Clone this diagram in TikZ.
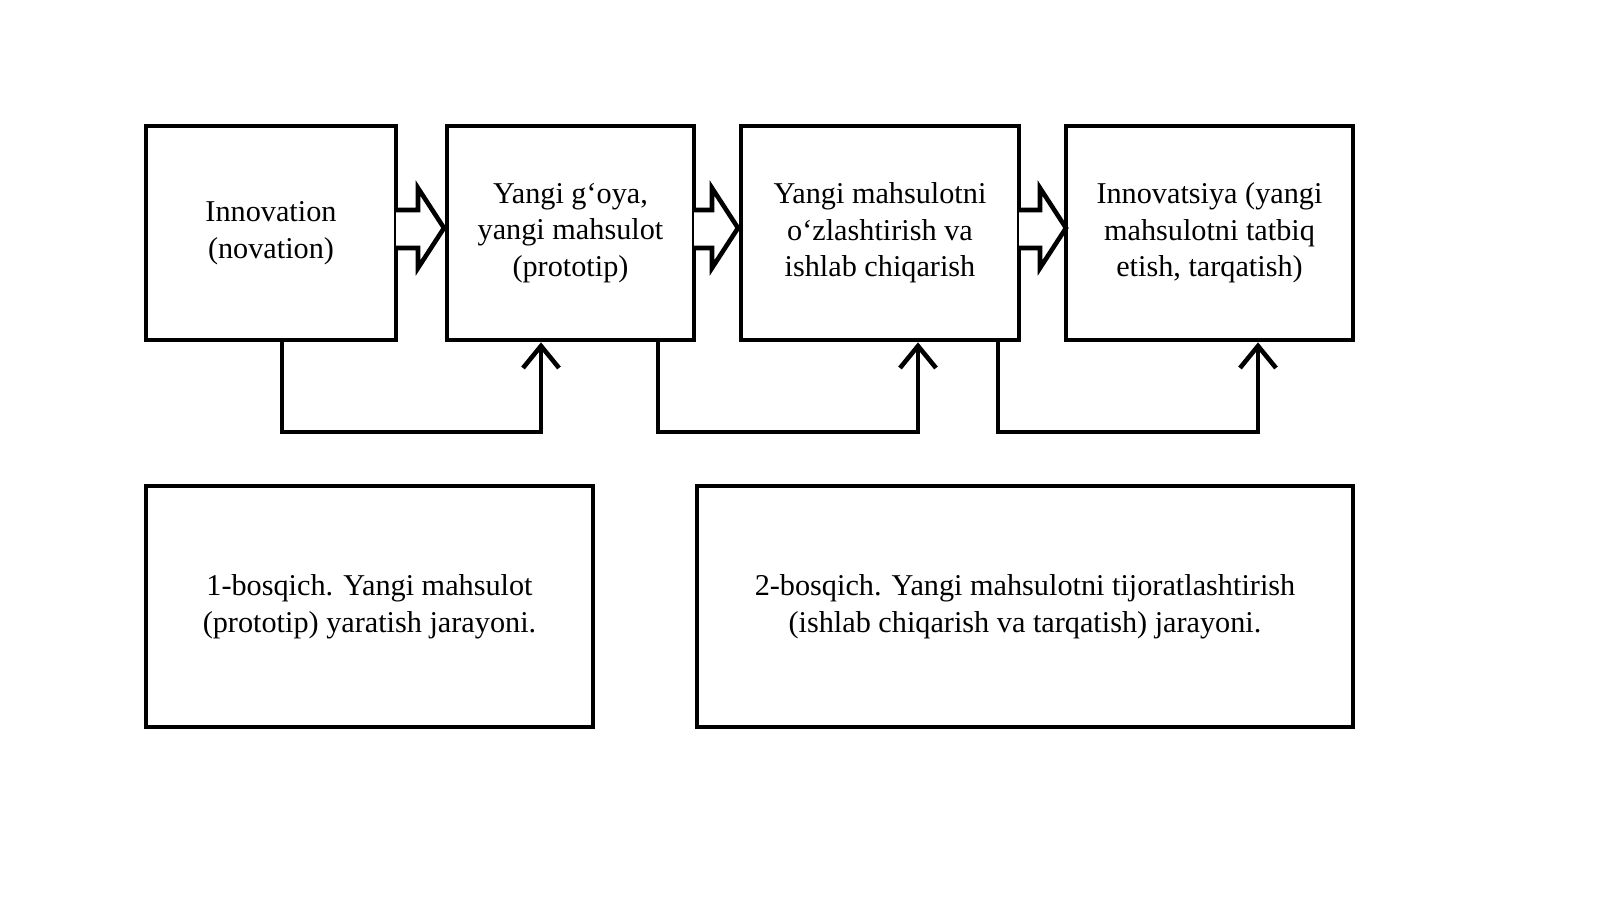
\documentclass[tikz,border=0pt]{standalone}
\usepackage{fontspec}
\setmainfont{Liberation Serif}
\usetikzlibrary{arrows.meta}
\begin{document}
\begin{tikzpicture}[x=0.01cm,y=-0.01cm,
  box/.style={draw,line width=1.3pt,inner sep=0pt,align=center,font=\fontsize{8.6}{10.4}\selectfont},
  conn/.style={line width=1.3pt,-{Straight Barb[length=2.2mm,width=3.6mm,line width=1.3pt]}},
  blk/.style={line width=1.3pt,fill=white}]
\useasboundingbox (0,0) rectangle (1600,899);
\fill[white] (0,0) rectangle (1600,899);
\node[box,minimum width=2.5cm,minimum height=2.14cm] (b1) at (271,233) {Innovation\\(novation)};
\node[box,minimum width=2.47cm,minimum height=2.14cm] (b2) at (570.5,233) {Yangi g‘oya,\\yangi mahsulot\\(prototip)};
\node[box,minimum width=2.78cm,minimum height=2.14cm] (b3) at (880,233) {Yangi mahsulotni\\o‘zlashtirish va\\ishlab chiqarish};
\node[box,minimum width=2.87cm,minimum height=2.14cm] (b4) at (1209.5,233) {Innovatsiya (yangi\\mahsulotni tatbiq\\etish, tarqatish)};
\node[box,minimum width=4.47cm,minimum height=2.41cm] (b5) at (369.5,606.5) {1-bosqich. Yangi mahsulot\\(prototip) yaratish jarayoni.};
\node[box,minimum width=6.56cm,minimum height=2.41cm] (b6) at (1025,606.5) {2-bosqich. Yangi mahsulotni tijoratlashtirish\\(ishlab chiqarish va tarqatish) jarayoni.};
% block arrows
\foreach \xa/\xb in {396/444, 694/738, 1019/1066}{
  \draw[blk] (\xa,210) -- ({\xb-26},210) -- ({\xb-26},188) -- (\xb,228) -- ({\xb-26},268) -- ({\xb-26},248) -- (\xa,248);
}
% connectors
\draw[conn] (b1.south -| 282,0) -- (282,432) -- (541,432) -- (b2.south -| 541,0);
\draw[conn] (b2.south -| 658,0) -- (658,432) -- (918,432) -- (b3.south -| 918,0);
\draw[conn] (b3.south -| 998,0) -- (998,432) -- (1258,432) -- (b4.south -| 1258,0);
\end{tikzpicture}
\end{document}
